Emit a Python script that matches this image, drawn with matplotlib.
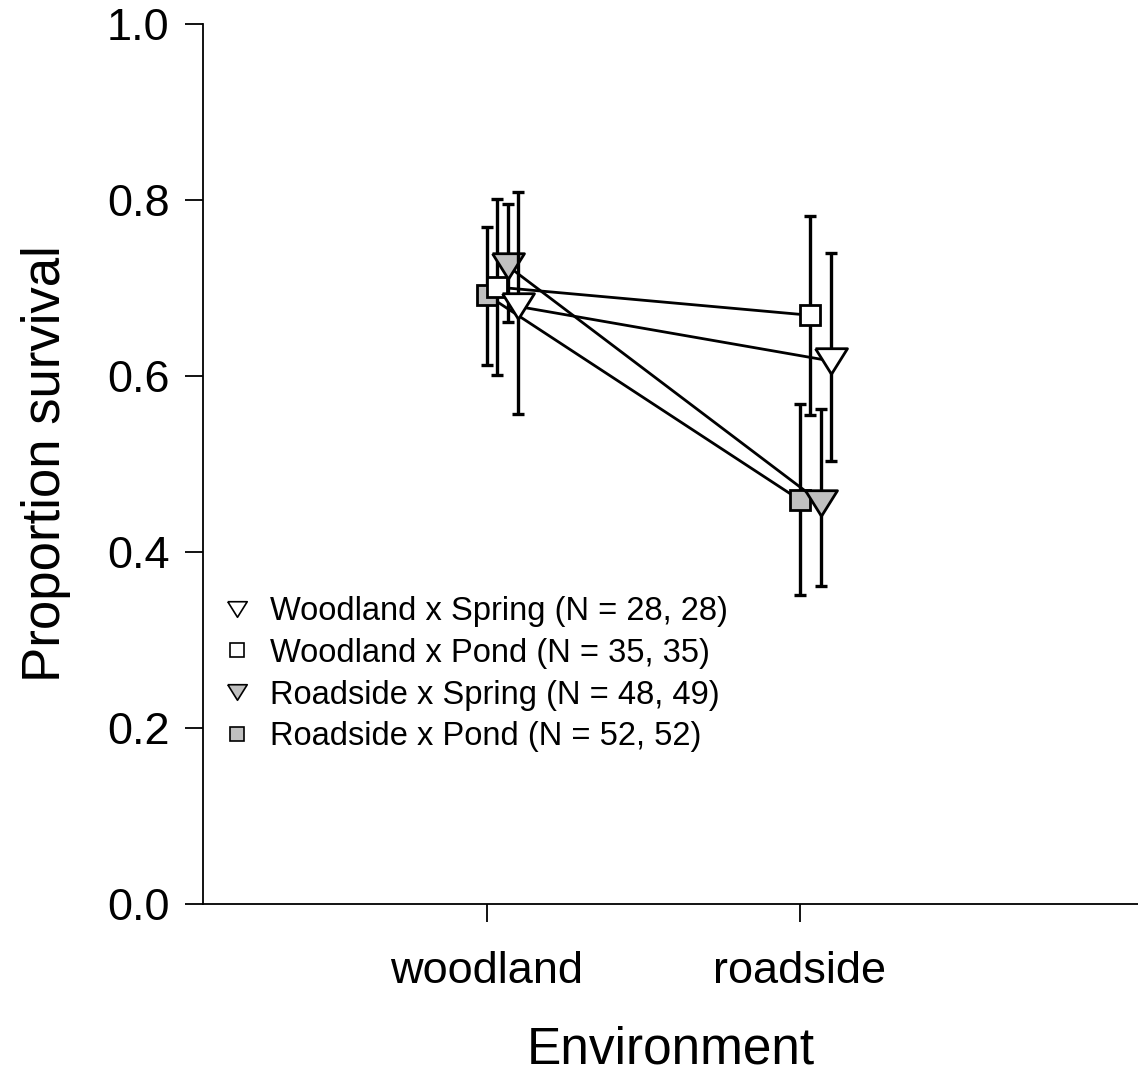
import numpy as np
import matplotlib.pyplot as plt
from matplotlib.lines import Line2D

plt.rcParams['font.family'] = ['Liberation Sans', 'DejaVu Sans']

# data
environments = ['woodland', 'roadside']
series = ['Woodland x Spring (N = 28, 28)', 'Woodland x Pond (N = 35, 35)',
          'Roadside x Spring (N = 48, 49)', 'Roadside x Pond (N = 52, 52)']
# survival proportions, [woodland, roadside]
ws_mean = [0.679, 0.617]
wp_mean = [0.701, 0.669]
rs_mean = [0.725, 0.456]
rp_mean = [0.692, 0.459]
# upper / lower limits of the error bars
ws_hi = [0.809, 0.740]
ws_lo = [0.557, 0.503]
wp_hi = [0.801, 0.782]
wp_lo = [0.601, 0.556]
rs_hi = [0.796, 0.562]
rs_lo = [0.661, 0.361]
rp_hi = [0.769, 0.568]
rp_lo = [0.613, 0.351]

gray = '#c0c0c0'
tri = [(-1, 0.8), (1, 0.8), (0, -0.8), (-1, 0.8)]

fig = plt.figure(figsize=(11.38, 10.84), dpi=100)
ax = fig.add_axes([203/1138, 180/1084, 935/1138, 880/1084])

x = np.array([1, 2])
# offset, mean, hi, lo, marker, fill, size  (drawn bottom to top)
groups = [
    (0.0, rp_mean, rp_hi, rp_lo, 's', gray, 15),
    (1/30, wp_mean, wp_hi, wp_lo, 's', 'white', 15),
    (2/30, rs_mean, rs_hi, rs_lo, tri, gray, 23),
    (3/30, ws_mean, ws_hi, ws_lo, tri, 'white', 23),
]
z = 2
for off, m, hi, lo, mk, fc, ms in groups:
    m = np.array(m)
    yerr = [m - np.array(lo), np.array(hi) - m]
    ax.errorbar(x + off, m, yerr=yerr, fmt='none', ecolor='black',
                elinewidth=2.4, capsize=4, capthick=2.4, zorder=z)
    ax.plot(x + off, m, color='black', lw=2.0, zorder=z)
    ax.plot(x + off, m, linestyle='none', marker=mk, markersize=ms,
            markerfacecolor=fc, markeredgecolor='black', markeredgewidth=2.0,
            zorder=z + 0.5)
    z += 1

ax.set_xlim(0.093, 3.08)
ax.set_ylim(0, 1.0)
ax.set_xticks(x)
ax.set_xticklabels(environments)
ax.set_yticks([0, 0.2, 0.4, 0.6, 0.8, 1.0])
ax.set_yticklabels(['0.0', '0.2', '0.4', '0.6', '0.8', '1.0'])
ax.tick_params(axis='both', direction='out', length=13, width=1.3,
               labelsize=32.5, colors='black')
ax.tick_params(axis='y', pad=11)
ax.tick_params(axis='x', pad=21)
for s in ['top', 'right']:
    ax.spines[s].set_visible(False)
for s in ['left', 'bottom']:
    ax.spines[s].set_linewidth(1.3)

ax.set_xlabel('Environment', fontsize=37, labelpad=24)
ax.set_ylabel('Proportion survival', fontsize=38, labelpad=26)

handles = [
    Line2D([], [], ls='none', marker=tri, markersize=14, mfc='white', mec='black', mew=1.2),
    Line2D([], [], ls='none', marker='s', markersize=9.5, mfc='white', mec='black', mew=1.2),
    Line2D([], [], ls='none', marker=tri, markersize=14, mfc=gray, mec='black', mew=1.2),
    Line2D([], [], ls='none', marker='s', markersize=9.5, mfc=gray, mec='black', mew=1.2),
]
fig.legend(handles, series, loc='upper left', bbox_to_anchor=(227/1138, 1 - 596/1084),
           frameon=False, fontsize=23.5, handlelength=0.6, handletextpad=0.72,
           labelspacing=0.33, borderpad=0, borderaxespad=0)

fig.savefig('out.png', dpi=100)
